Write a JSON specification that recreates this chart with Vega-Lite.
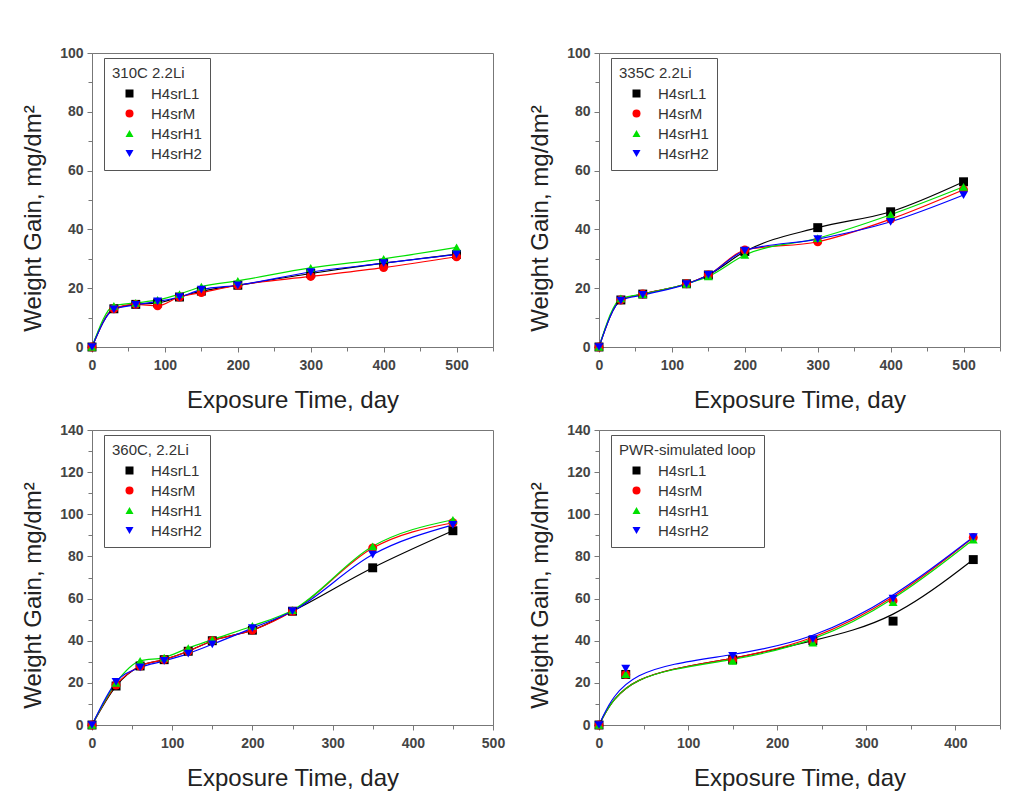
{
  "$schema": "https://vega.github.io/schema/vega-lite/v6.json",
  "background": "white",
  "padding": {"left": 21, "top": 45, "right": 5, "bottom": 5},
  "bounds": "flush",
  "columns": 2,
  "spacing": {"row": 83, "column": 106},
  "config": {
    "font": "Liberation Sans",
    "view": {"stroke": "#777", "strokeWidth": 1},
    "axis": {
      "grid": false,
      "domainColor": "#777",
      "tickColor": "#777",
      "labelFont": "Liberation Sans",
      "labelFontSize": 14,
      "labelFontWeight": "bold",
      "labelColor": "#444",
      "labelOverlap": false,
      "labelFlush": false,
      "labelBound": false,
      "titleFont": "Liberation Sans",
      "titleFontSize": 24,
      "titleFontWeight": "normal",
      "titleColor": "#222"
    },
    "axisX": {"labelPadding": 6, "titlePadding": 16},
    "axisY": {"labelPadding": 4, "titlePadding": 14},
    "legend": {
      "orient": "none",
      "legendX": 12,
      "legendY": 5,
      "strokeColor": "#555",
      "fillColor": "white",
      "padding": 8,
      "titleFont": "Liberation Sans",
      "titleFontSize": 15,
      "titleFontWeight": "normal",
      "titleColor": "#333",
      "titlePadding": 5,
      "labelFont": "Liberation Sans",
      "labelFontSize": 15,
      "labelColor": "#333",
      "symbolSize": 64,
      "symbolOffset": 10,
      "labelOffset": 14,
      "rowPadding": 4,
      "symbolStrokeWidth": 0,
      "symbolOpacity": 1
    }
  },
  "resolve": {"scale": {"color": "independent", "shape": "independent"}, "legend": {"color": "independent", "shape": "independent"}},
  "datasets": {
    "p1": [
      {"series": "H4srL1", "day": 0, "gain": 0}, {"series": "H4srL1", "day": 30, "gain": 13}, {"series": "H4srL1", "day": 60, "gain": 14.5}, {"series": "H4srL1", "day": 90, "gain": 15}, {"series": "H4srL1", "day": 120, "gain": 17}, {"series": "H4srL1", "day": 150, "gain": 19}, {"series": "H4srL1", "day": 200, "gain": 21}, {"series": "H4srL1", "day": 300, "gain": 25}, {"series": "H4srL1", "day": 400, "gain": 28.5}, {"series": "H4srL1", "day": 500, "gain": 31.5},
      {"series": "H4srM", "day": 0, "gain": 0}, {"series": "H4srM", "day": 30, "gain": 13}, {"series": "H4srM", "day": 60, "gain": 14.5}, {"series": "H4srM", "day": 90, "gain": 14}, {"series": "H4srM", "day": 120, "gain": 17}, {"series": "H4srM", "day": 150, "gain": 18.5}, {"series": "H4srM", "day": 200, "gain": 21}, {"series": "H4srM", "day": 300, "gain": 24}, {"series": "H4srM", "day": 400, "gain": 27}, {"series": "H4srM", "day": 500, "gain": 30.7},
      {"series": "H4srH1", "day": 0, "gain": 0}, {"series": "H4srH1", "day": 30, "gain": 14}, {"series": "H4srH1", "day": 60, "gain": 15}, {"series": "H4srH1", "day": 90, "gain": 16}, {"series": "H4srH1", "day": 120, "gain": 18}, {"series": "H4srH1", "day": 150, "gain": 20.5}, {"series": "H4srH1", "day": 200, "gain": 22.5}, {"series": "H4srH1", "day": 300, "gain": 26.9}, {"series": "H4srH1", "day": 400, "gain": 30}, {"series": "H4srH1", "day": 500, "gain": 33.9},
      {"series": "H4srH2", "day": 0, "gain": 0}, {"series": "H4srH2", "day": 30, "gain": 12.8}, {"series": "H4srH2", "day": 60, "gain": 14.3}, {"series": "H4srH2", "day": 90, "gain": 15.5}, {"series": "H4srH2", "day": 120, "gain": 17}, {"series": "H4srH2", "day": 150, "gain": 19.5}, {"series": "H4srH2", "day": 200, "gain": 21}, {"series": "H4srH2", "day": 300, "gain": 25.5}, {"series": "H4srH2", "day": 400, "gain": 28.5}, {"series": "H4srH2", "day": 500, "gain": 31.5}
    ],
    "p2": [
      {"series": "H4srL1", "day": 0, "gain": 0}, {"series": "H4srL1", "day": 30, "gain": 16}, {"series": "H4srL1", "day": 60, "gain": 18}, {"series": "H4srL1", "day": 120, "gain": 21.5}, {"series": "H4srL1", "day": 150, "gain": 24.5}, {"series": "H4srL1", "day": 200, "gain": 32.5}, {"series": "H4srL1", "day": 300, "gain": 40.6}, {"series": "H4srL1", "day": 400, "gain": 46}, {"series": "H4srL1", "day": 500, "gain": 56.2},
      {"series": "H4srM", "day": 0, "gain": 0}, {"series": "H4srM", "day": 30, "gain": 16}, {"series": "H4srM", "day": 60, "gain": 18}, {"series": "H4srM", "day": 120, "gain": 21.5}, {"series": "H4srM", "day": 150, "gain": 24.5}, {"series": "H4srM", "day": 200, "gain": 33}, {"series": "H4srM", "day": 300, "gain": 35.8}, {"series": "H4srM", "day": 400, "gain": 43.5}, {"series": "H4srM", "day": 500, "gain": 53.5},
      {"series": "H4srH1", "day": 0, "gain": 0}, {"series": "H4srH1", "day": 30, "gain": 16.5}, {"series": "H4srH1", "day": 60, "gain": 18}, {"series": "H4srH1", "day": 120, "gain": 21.5}, {"series": "H4srH1", "day": 150, "gain": 24}, {"series": "H4srH1", "day": 200, "gain": 31.3}, {"series": "H4srH1", "day": 300, "gain": 37}, {"series": "H4srH1", "day": 400, "gain": 45}, {"series": "H4srH1", "day": 500, "gain": 54.5},
      {"series": "H4srH2", "day": 0, "gain": 0}, {"series": "H4srH2", "day": 30, "gain": 15.8}, {"series": "H4srH2", "day": 60, "gain": 17.7}, {"series": "H4srH2", "day": 120, "gain": 21.4}, {"series": "H4srH2", "day": 150, "gain": 24.5}, {"series": "H4srH2", "day": 200, "gain": 32.8}, {"series": "H4srH2", "day": 300, "gain": 36.7}, {"series": "H4srH2", "day": 400, "gain": 42.6}, {"series": "H4srH2", "day": 500, "gain": 51.7}
    ],
    "p3": [
      {"series": "H4srL1", "day": 0, "gain": 0}, {"series": "H4srL1", "day": 30, "gain": 18.5}, {"series": "H4srL1", "day": 60, "gain": 28}, {"series": "H4srL1", "day": 90, "gain": 31}, {"series": "H4srL1", "day": 120, "gain": 35}, {"series": "H4srL1", "day": 150, "gain": 40}, {"series": "H4srL1", "day": 200, "gain": 45}, {"series": "H4srL1", "day": 250, "gain": 54}, {"series": "H4srL1", "day": 350, "gain": 74.6}, {"series": "H4srL1", "day": 450, "gain": 92.2},
      {"series": "H4srM", "day": 0, "gain": 0}, {"series": "H4srM", "day": 30, "gain": 19}, {"series": "H4srM", "day": 60, "gain": 28}, {"series": "H4srM", "day": 90, "gain": 31}, {"series": "H4srM", "day": 120, "gain": 35}, {"series": "H4srM", "day": 150, "gain": 40}, {"series": "H4srM", "day": 200, "gain": 45}, {"series": "H4srM", "day": 250, "gain": 54}, {"series": "H4srM", "day": 350, "gain": 84}, {"series": "H4srM", "day": 450, "gain": 96},
      {"series": "H4srH1", "day": 0, "gain": 0}, {"series": "H4srH1", "day": 30, "gain": 20}, {"series": "H4srH1", "day": 60, "gain": 30.4}, {"series": "H4srH1", "day": 90, "gain": 32}, {"series": "H4srH1", "day": 120, "gain": 36.5}, {"series": "H4srH1", "day": 150, "gain": 40.5}, {"series": "H4srH1", "day": 200, "gain": 47}, {"series": "H4srH1", "day": 250, "gain": 54.5}, {"series": "H4srH1", "day": 350, "gain": 84.8}, {"series": "H4srH1", "day": 450, "gain": 97.4},
      {"series": "H4srH2", "day": 0, "gain": 0}, {"series": "H4srH2", "day": 30, "gain": 20.5}, {"series": "H4srH2", "day": 60, "gain": 27.3}, {"series": "H4srH2", "day": 90, "gain": 30.4}, {"series": "H4srH2", "day": 120, "gain": 33.9}, {"series": "H4srH2", "day": 150, "gain": 38.3}, {"series": "H4srH2", "day": 200, "gain": 46}, {"series": "H4srH2", "day": 250, "gain": 54}, {"series": "H4srH2", "day": 350, "gain": 80.9}, {"series": "H4srH2", "day": 450, "gain": 95}
    ],
    "p4": [
      {"series": "H4srL1", "day": 0, "gain": 0}, {"series": "H4srL1", "day": 30, "gain": 24}, {"series": "H4srL1", "day": 150, "gain": 31}, {"series": "H4srL1", "day": 240, "gain": 40}, {"series": "H4srL1", "day": 330, "gain": 49.3}, {"series": "H4srL1", "day": 420, "gain": 78.5},
      {"series": "H4srM", "day": 0, "gain": 0}, {"series": "H4srM", "day": 30, "gain": 24}, {"series": "H4srM", "day": 150, "gain": 31}, {"series": "H4srM", "day": 240, "gain": 40}, {"series": "H4srM", "day": 330, "gain": 59}, {"series": "H4srM", "day": 420, "gain": 89},
      {"series": "H4srH1", "day": 0, "gain": 0}, {"series": "H4srH1", "day": 30, "gain": 24.1}, {"series": "H4srH1", "day": 150, "gain": 30.4}, {"series": "H4srH1", "day": 240, "gain": 39.1}, {"series": "H4srH1", "day": 330, "gain": 58.3}, {"series": "H4srH1", "day": 420, "gain": 88},
      {"series": "H4srH2", "day": 0, "gain": 0}, {"series": "H4srH2", "day": 30, "gain": 26.8}, {"series": "H4srH2", "day": 150, "gain": 32.8}, {"series": "H4srH2", "day": 240, "gain": 40.7}, {"series": "H4srH2", "day": 330, "gain": 60}, {"series": "H4srH2", "day": 420, "gain": 89.2}
    ]
  },
  "concat": [
    {
      "width": 401, "height": 294,
      "data": {"name": "p1"},
      "encoding": {
        "x": {"field": "day", "type": "quantitative", "scale": {"domain": [0, 550], "nice": false, "zero": false},
          "axis": {"title": "Exposure Time, day", "values": [0,50,100,150,200,250,300,350,400,450,500,550], "labelExpr": "datum.value % 100 === 0 ? datum.label : ''", "tickSize": {"condition": {"test": "datum.value % 100 === 0", "value": 5}, "value": 4}}},
        "y": {"field": "gain", "type": "quantitative", "scale": {"domain": [0, 100], "nice": false},
          "axis": {"title": "Weight Gain, mg/dm²", "titleY": 165, "values": [0,10,20,30,40,50,60,70,80,90,100], "labelExpr": "datum.value % 20 === 0 ? datum.label : ''", "tickSize": {"condition": {"test": "datum.value % 20 === 0", "value": 5}, "value": 4}}}
      },
      "layer": [
        {"mark": {"type": "line", "interpolate": "monotone", "strokeWidth": 1.2},
         "encoding": {"color": {"field": "series", "type": "nominal", "scale": {"domain": ["H4srL1","H4srM","H4srH1","H4srH2"], "range": ["#000000","#ff0000","#00e000","#0000ff"]}, "legend": {"title": "310C 2.2Li"}}}},
        {"mark": {"type": "point", "filled": true, "size": 80, "opacity": 1},
         "encoding": {
           "color": {"field": "series", "type": "nominal", "scale": {"domain": ["H4srL1","H4srM","H4srH1","H4srH2"], "range": ["#000000","#ff0000","#00e000","#0000ff"]}, "legend": {"title": "310C 2.2Li"}},
           "shape": {"field": "series", "type": "nominal", "scale": {"domain": ["H4srL1","H4srM","H4srH1","H4srH2"], "range": ["square","circle","triangle-up","triangle-down"]}, "legend": {"title": "310C 2.2Li"}}
         }}
      ]
    },
    {
      "width": 401, "height": 294,
      "data": {"name": "p2"},
      "encoding": {
        "x": {"field": "day", "type": "quantitative", "scale": {"domain": [0, 550], "nice": false, "zero": false},
          "axis": {"title": "Exposure Time, day", "values": [0,50,100,150,200,250,300,350,400,450,500,550], "labelExpr": "datum.value % 100 === 0 ? datum.label : ''", "tickSize": {"condition": {"test": "datum.value % 100 === 0", "value": 5}, "value": 4}}},
        "y": {"field": "gain", "type": "quantitative", "scale": {"domain": [0, 100], "nice": false},
          "axis": {"title": "Weight Gain, mg/dm²", "titleY": 165, "values": [0,10,20,30,40,50,60,70,80,90,100], "labelExpr": "datum.value % 20 === 0 ? datum.label : ''", "tickSize": {"condition": {"test": "datum.value % 20 === 0", "value": 5}, "value": 4}}}
      },
      "layer": [
        {"mark": {"type": "line", "interpolate": "monotone", "strokeWidth": 1.2},
         "encoding": {"color": {"field": "series", "type": "nominal", "scale": {"domain": ["H4srL1","H4srM","H4srH1","H4srH2"], "range": ["#000000","#ff0000","#00e000","#0000ff"]}, "legend": {"title": "335C 2.2Li"}}}},
        {"mark": {"type": "point", "filled": true, "size": 80, "opacity": 1},
         "encoding": {
           "color": {"field": "series", "type": "nominal", "scale": {"domain": ["H4srL1","H4srM","H4srH1","H4srH2"], "range": ["#000000","#ff0000","#00e000","#0000ff"]}, "legend": {"title": "335C 2.2Li"}},
           "shape": {"field": "series", "type": "nominal", "scale": {"domain": ["H4srL1","H4srM","H4srH1","H4srH2"], "range": ["square","circle","triangle-up","triangle-down"]}, "legend": {"title": "335C 2.2Li"}}
         }}
      ]
    },
    {
      "width": 401, "height": 295,
      "data": {"name": "p3"},
      "encoding": {
        "x": {"field": "day", "type": "quantitative", "scale": {"domain": [0, 500], "nice": false, "zero": false},
          "axis": {"title": "Exposure Time, day", "values": [0,50,100,150,200,250,300,350,400,450,500], "labelExpr": "datum.value % 100 === 0 ? datum.label : ''", "tickSize": {"condition": {"test": "datum.value % 100 === 0", "value": 5}, "value": 4}}},
        "y": {"field": "gain", "type": "quantitative", "scale": {"domain": [0, 140], "nice": false},
          "axis": {"title": "Weight Gain, mg/dm²", "titleY": 165, "values": [0,10,20,30,40,50,60,70,80,90,100,110,120,130,140], "labelExpr": "datum.value % 20 === 0 ? datum.label : ''", "tickSize": {"condition": {"test": "datum.value % 20 === 0", "value": 5}, "value": 4}}}
      },
      "layer": [
        {"mark": {"type": "line", "interpolate": "monotone", "strokeWidth": 1.2},
         "encoding": {"color": {"field": "series", "type": "nominal", "scale": {"domain": ["H4srL1","H4srM","H4srH1","H4srH2"], "range": ["#000000","#ff0000","#00e000","#0000ff"]}, "legend": {"title": "360C, 2.2Li"}}}},
        {"mark": {"type": "point", "filled": true, "size": 80, "opacity": 1},
         "encoding": {
           "color": {"field": "series", "type": "nominal", "scale": {"domain": ["H4srL1","H4srM","H4srH1","H4srH2"], "range": ["#000000","#ff0000","#00e000","#0000ff"]}, "legend": {"title": "360C, 2.2Li"}},
           "shape": {"field": "series", "type": "nominal", "scale": {"domain": ["H4srL1","H4srM","H4srH1","H4srH2"], "range": ["square","circle","triangle-up","triangle-down"]}, "legend": {"title": "360C, 2.2Li"}}
         }}
      ]
    },
    {
      "width": 401, "height": 295,
      "data": {"name": "p4"},
      "encoding": {
        "x": {"field": "day", "type": "quantitative", "scale": {"domain": [0, 450], "nice": false, "zero": false},
          "axis": {"title": "Exposure Time, day", "values": [0,50,100,150,200,250,300,350,400,450], "labelExpr": "datum.value % 100 === 0 ? datum.label : ''", "tickSize": {"condition": {"test": "datum.value % 100 === 0", "value": 5}, "value": 4}}},
        "y": {"field": "gain", "type": "quantitative", "scale": {"domain": [0, 140], "nice": false},
          "axis": {"title": "Weight Gain, mg/dm²", "titleY": 165, "values": [0,10,20,30,40,50,60,70,80,90,100,110,120,130,140], "labelExpr": "datum.value % 20 === 0 ? datum.label : ''", "tickSize": {"condition": {"test": "datum.value % 20 === 0", "value": 5}, "value": 4}}}
      },
      "layer": [
        {"mark": {"type": "line", "interpolate": "basis", "strokeWidth": 1.2},
         "encoding": {"color": {"field": "series", "type": "nominal", "scale": {"domain": ["H4srL1","H4srM","H4srH1","H4srH2"], "range": ["#000000","#ff0000","#00e000","#0000ff"]}, "legend": {"title": "PWR-simulated loop"}}}},
        {"mark": {"type": "point", "filled": true, "size": 80, "opacity": 1},
         "encoding": {
           "color": {"field": "series", "type": "nominal", "scale": {"domain": ["H4srL1","H4srM","H4srH1","H4srH2"], "range": ["#000000","#ff0000","#00e000","#0000ff"]}, "legend": {"title": "PWR-simulated loop"}},
           "shape": {"field": "series", "type": "nominal", "scale": {"domain": ["H4srL1","H4srM","H4srH1","H4srH2"], "range": ["square","circle","triangle-up","triangle-down"]}, "legend": {"title": "PWR-simulated loop"}}
         }}
      ]
    }
  ]
}
